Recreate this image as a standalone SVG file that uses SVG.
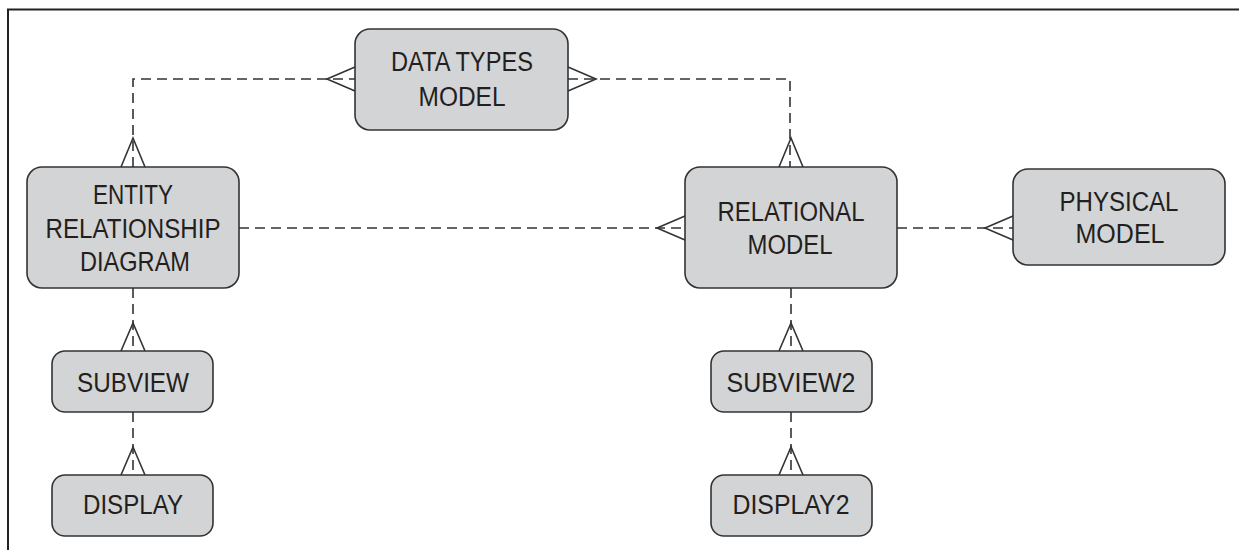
<svg xmlns="http://www.w3.org/2000/svg" width="1239" height="550" viewBox="0 0 1239 550">
<style>
.box{fill:#d3d4d6;stroke:#333;stroke-width:1.6}
.lbl{font-family:"Liberation Sans",Arial,sans-serif;font-size:27px;fill:#231f20;text-anchor:middle}
.dash{fill:none;stroke:#333;stroke-width:1.6;stroke-dasharray:10 6}
.foot{fill:none;stroke:#333;stroke-width:1.6}
.frame{fill:none;stroke:#222;stroke-width:2}
</style>
<rect width="1239" height="550" fill="#fff"/>
<path class="frame" d="M8,550 V9.5 H1239"/>
<g id="connectors">
<path class="dash" d="M133,167 V79 H355"/>
<path class="foot" d="M355,67 L327,79 L355,91 M121,167 L133,138 L145,167"/>
<path class="dash" d="M568,79 H790 V167"/>
<path class="foot" d="M568,67 L596,79 L568,91 M779,167 L791,138 L803,167"/>
<path class="dash" d="M239,228 H685"/>
<path class="foot" d="M685,216 L657,228 L685,240"/>
<path class="dash" d="M897,228 H1013"/>
<path class="foot" d="M1013,216 L985,228 L1013,240"/>
<path class="dash" d="M133,288 V351"/>
<path class="foot" d="M121,351 L133,323 L145,351"/>
<path class="dash" d="M133,412 V475"/>
<path class="foot" d="M121,475 L133,447 L145,475"/>
<path class="dash" d="M791,288 V351"/>
<path class="foot" d="M779,351 L791,323 L803,351"/>
<path class="dash" d="M791,412 V475"/>
<path class="foot" d="M779,475 L791,447 L803,475"/>
</g>
<g id="datatypes">
<rect class="box" x="355" y="29" width="213" height="101" rx="15"/>
<text class="lbl" x="462" y="71" textLength="142" lengthAdjust="spacingAndGlyphs">DATA TYPES</text>
<text class="lbl" x="462" y="106" textLength="87" lengthAdjust="spacingAndGlyphs">MODEL</text>
</g>
<g id="erd">
<rect class="box" x="27" y="167" width="212" height="121" rx="15"/>
<text class="lbl" x="133" y="204" textLength="80" lengthAdjust="spacingAndGlyphs">ENTITY</text>
<text class="lbl" x="133" y="238" textLength="175" lengthAdjust="spacingAndGlyphs">RELATIONSHIP</text>
<text class="lbl" x="135" y="271" textLength="110" lengthAdjust="spacingAndGlyphs">DIAGRAM</text>
</g>
<g id="relational">
<rect class="box" x="685" y="167" width="212" height="121" rx="15"/>
<text class="lbl" x="791" y="221" textLength="147" lengthAdjust="spacingAndGlyphs">RELATIONAL</text>
<text class="lbl" x="790" y="254" textLength="85" lengthAdjust="spacingAndGlyphs">MODEL</text>
</g>
<g id="physical">
<rect class="box" x="1013" y="169" width="212" height="96" rx="15"/>
<text class="lbl" x="1119" y="211" textLength="119" lengthAdjust="spacingAndGlyphs">PHYSICAL</text>
<text class="lbl" x="1120" y="243" textLength="89" lengthAdjust="spacingAndGlyphs">MODEL</text>
</g>
<g id="subview">
<rect class="box" x="52" y="351" width="161" height="61" rx="13"/>
<text class="lbl" x="133" y="392" textLength="112" lengthAdjust="spacingAndGlyphs">SUBVIEW</text>
</g>
<g id="display">
<rect class="box" x="52" y="475" width="161" height="61" rx="13"/>
<text class="lbl" x="133" y="514" textLength="100" lengthAdjust="spacingAndGlyphs">DISPLAY</text>
</g>
<g id="subview2">
<rect class="box" x="711" y="351" width="161" height="61" rx="13"/>
<text class="lbl" x="791" y="392" textLength="129" lengthAdjust="spacingAndGlyphs">SUBVIEW2</text>
</g>
<g id="display2">
<rect class="box" x="711" y="475" width="161" height="61" rx="13"/>
<text class="lbl" x="791" y="514" textLength="117" lengthAdjust="spacingAndGlyphs">DISPLAY2</text>
</g>
</svg>
